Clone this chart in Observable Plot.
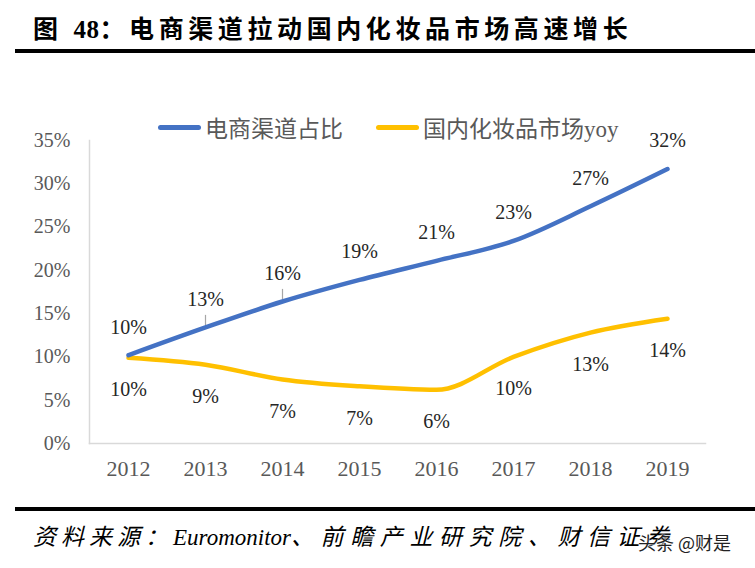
<!DOCTYPE html>
<html>
<head>
<meta charset="utf-8">
<script src="https://cdn.jsdelivr.net/npm/d3@7"></script>
<script src="https://cdn.jsdelivr.net/npm/@observablehq/plot@0.6"></script>
<style>
  html, body { margin: 0; padding: 0; background: #fff; }
  #page { position: relative; width: 755px; height: 568px; overflow: hidden; background: #fff; }
  .title { position: absolute; left: 33px; top: 14px; font-family: "Liberation Serif", "Noto Sans CJK SC", serif; font-weight: bold; font-size: 25px; line-height: 32px; letter-spacing: 4.6px; color: #000; white-space: nowrap; }
  .title .num { letter-spacing: 0.5px; }
  .rule { position: absolute; left: 15px; right: 0; height: 4px; background: #000; }
  .legend-item { position: absolute; top: 113px; height: 28px; display: flex; align-items: center; font-family: "Liberation Serif", "Noto Sans CJK SC", sans-serif; font-size: 23px; color: #595959; white-space: nowrap; }
  .sw { display: inline-block; width: 43px; height: 5px; border-radius: 3px; margin-right: 4px; }
  #chart { position: absolute; left: 0; top: 60px; }
  .caption { position: absolute; left: 33px; top: 522px; font-family: "Liberation Serif", "Noto Sans CJK SC", serif; font-style: italic; font-size: 23px; line-height: 32px; color: #000; white-space: nowrap; }
  .cjk { letter-spacing: 5px; }
  .cjk2 { letter-spacing: 6.6px; }
  .wm { position: absolute; left: 638px; top: 529px; font-family: "Noto Sans CJK SC", sans-serif; font-size: 18px; line-height: 26px; color: #222; white-space: nowrap; text-shadow: 0 0 2px #fff, 0 0 2px #fff; }
</style>
</head>
<body>
<div id="page">
  <div class="title">图 <span class="num">48</span>：电商渠道拉动国内化妆品市场高速增长</div>
  <div class="rule" style="top:49px"></div>
  <div id="legend"></div>
  <div id="chart"></div>
  <div class="rule" style="top:507px"></div>
  <div class="caption"><span class="cjk">资料来源：</span>Euromonitor<span class="cjk2">、前瞻产业研究院、财信证券</span></div>
  <div class="wm">头条 @财是</div>
</div>
<script>
const years = ["2012", "2013", "2014", "2015", "2016", "2017", "2018", "2019"];
const ecomShare = [10.2, 13.4, 16.4, 18.9, 21.1, 23.4, 27.4, 31.7];
const marketYoy = [9.9, 9.1, 7.4, 6.6, 6.2, 10.0, 12.8, 14.4];
const yTicks = [0, 5, 10, 15, 20, 25, 30, 35];
const seriesNames = ["电商渠道占比", "国内化妆品市场yoy"];
const seriesColors = ["#4472C4", "#FFC000"];
const leaderYears = ["2013", "2014"];

const blue = years.map((y, i) => ({year: y, v: ecomShare[i]}));
const yellow = years.map((y, i) => ({year: y, v: marketYoy[i]}));
const leaders = blue.filter(d => leaderYears.includes(d.year));

// legend
const legend = document.getElementById("legend");
const legendLeft = [158, 376];
seriesNames.forEach((name, i) => {
  const item = document.createElement("div");
  item.className = "legend-item";
  item.style.left = legendLeft[i] + "px";
  item.innerHTML = `<span class="sw" style="background:${seriesColors[i]}"></span><span>${name}</span>`;
  legend.appendChild(item);
});

const chart = Plot.plot({
  width: 755,
  height: 440,
  marginLeft: 89,
  marginRight: 50,
  marginTop: 80,
  marginBottom: 57,
  style: {fontFamily: "'Liberation Serif', serif", fontSize: "20px", background: "transparent"},
  x: {type: "point", domain: years, padding: 0.5, label: null},
  y: {domain: [0, 35], label: null},
  marks: [
    Plot.frame({anchor: "left", stroke: "#d9d9d9", strokeWidth: 1.5}),
    Plot.frame({anchor: "bottom", stroke: "#d9d9d9", strokeWidth: 1.5}),
    Plot.axisY({ticks: yTicks, tickFormat: d => d + "%", tickSize: 0, tickPadding: 19, fontSize: 20, color: "#595959", label: null}),
    Plot.axisX({tickSize: 0, tickPadding: 17, fontSize: 22, color: "#595959", label: null}),
    Plot.ruleX(leaders, {x: "year", y1: d => d.v + 0.2, y2: d => d.v + 1.4, stroke: "#a6a6a6", strokeWidth: 1.2}),
    Plot.line(yellow, {x: "year", y: "v", stroke: seriesColors[1], strokeWidth: 4.5, curve: "monotone-x"}),
    Plot.line(blue, {x: "year", y: "v", stroke: seriesColors[0], strokeWidth: 4.5, curve: "monotone-x"}),
    Plot.text(blue, {x: "year", y: "v", text: d => Math.round(d.v) + "%", dy: -28, fill: "#262626", fontSize: 20}),
    Plot.text(yellow, {x: "year", y: "v", text: d => Math.round(d.v) + "%", dy: 32, fill: "#262626", fontSize: 20})
  ]
});
document.getElementById("chart").appendChild(chart);
</script>
</body>
</html>
